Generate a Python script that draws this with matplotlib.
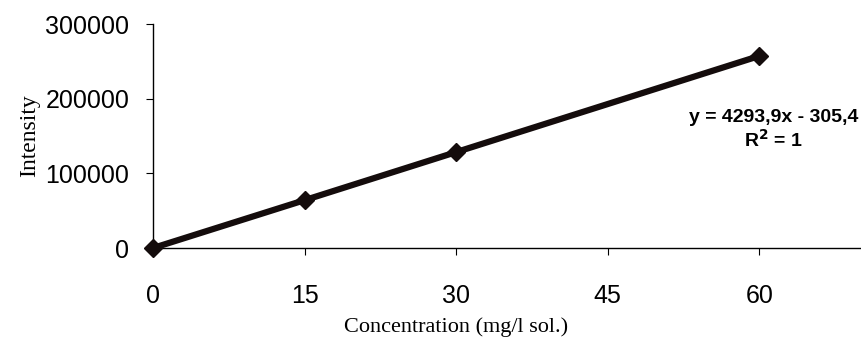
import matplotlib.pyplot as plt

# calibration data
conc = [0, 15, 30, 60]
intensity = [0, 64100, 128500, 257300]
x_ticks = [0, 15, 30, 45, 60]
y_ticks = [0, 100000, 200000, 300000]
eq_text = "y = 4293,9x - 305,4\nR$^\\mathbf{2}$ = 1"

fig = plt.figure(figsize=(8.62, 3.55), dpi=100)
ax = fig.add_axes([0.1775, 0.3014, 0.8205, 0.6306])

ax.plot(conc, intensity, color='#140c0c', linewidth=4.5, marker='D', markersize=9,
        markerfacecolor='#140c0c', markeredgecolor='#140c0c', clip_on=False, zorder=3)

ax.set_xlim(0, 70)
ax.set_ylim(0, 300000)
ax.set_xticks(x_ticks)
ax.set_yticks(y_ticks)
ax.set_xticklabels([str(v) for v in x_ticks], fontfamily='Liberation Sans', fontsize=18)
ax.set_yticklabels([str(v) for v in y_ticks], fontfamily='Liberation Sans', fontsize=18)

ax.spines['top'].set_visible(False)
ax.spines['right'].set_visible(False)
for s in ('left', 'bottom'):
    ax.spines[s].set_linewidth(1.0)
ax.tick_params(axis='x', direction='out', length=5, pad=21)
ax.tick_params(axis='y', direction='out', length=5, pad=12)

ax.set_xlabel('Concentration (mg/l sol.)', fontfamily='Liberation Serif', fontsize=16)
ax.xaxis.set_label_coords(30 / 70, -0.31)
ax.set_ylabel('Intensity', fontfamily='Liberation Serif', fontsize=17, labelpad=4)

ax.text(61.4, 158000, eq_text, ha='center', va='center', fontfamily='Liberation Sans',
        fontsize=14, fontweight='bold', linespacing=1.15)

fig.savefig('out.png', dpi=100)
